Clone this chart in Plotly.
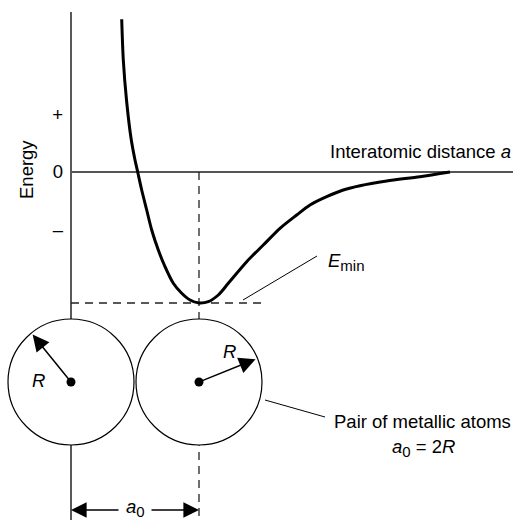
import math
import plotly.graph_objects as go

# ---------------- data (diagram units: origin where the axes cross) ----------------
# Potential-energy curve
distance = [50.7, 52.3, 55.5, 60.0, 64.0, 66.7, 70.7, 75.7, 80.7, 87.3, 94.0, 102.3,
            110.7, 119.0, 128.0, 137.3, 147.3, 157.3, 175.7, 192.3, 209.0, 225.7,
            239.0, 255.7, 272.3, 289.0, 315.7, 349.0, 379.0]
energy = [152.7, 112.0, 72.0, 34.0, 12.0, 0.0, -18.0, -38.0, -58.0, -78.0, -94.7, -111.3,
          -121.3, -128.0, -131.0, -129.7, -123.0, -111.3, -89.7, -73.0, -56.3, -43.0,
          -33.0, -24.7, -18.0, -13.7, -9.0, -4.7, 0.0]

energy_tick_values = [57, 0, -58]
energy_tick_labels = ["+", "0", "–"]

# ---------------- derived quantities ----------------
i_min = energy.index(min(energy))
a0 = distance[i_min]          # equilibrium spacing
E_min = energy[i_min]         # minimum energy
R = a0 / 2                    # atomic radius, a0 = 2R

# ---------------- frame / styling ----------------
X_MIN, X_MAX = -71, 442
Y_MIN, Y_MAX = -348, 172
W, H = 513, 520
FONT = "Liberation Sans, Arial, Helvetica, sans-serif"
FS = 18.5
SUB = '<sub><span style="font-size:15px">{}</span></sub>'
atom_y = -210
R_draw = R - 1
dim_y = -338

fig = go.Figure()

fig.add_trace(go.Scatter(
    x=distance, y=energy, mode="lines",
    line=dict(color="black", width=3, shape="spline", smoothing=0.8),
    hoverinfo="skip", showlegend=False))

fig.add_trace(go.Scatter(
    x=[0, a0], y=[atom_y, atom_y], mode="markers",
    marker=dict(color="black", size=9),
    hoverinfo="skip", showlegend=False))

shapes = [
    # energy axis
    dict(type="line", x0=0, x1=0, y0=160, y1=Y_MIN, line=dict(color="#222", width=1.5)),
    # distance axis
    dict(type="line", x0=0, x1=X_MAX, y0=0, y1=0, line=dict(color="#555", width=2)),
    # E_min dashed guide
    dict(type="line", x0=0, x1=194, y0=E_min, y1=E_min,
         line=dict(color="#222", width=1.3, dash="8px,6px")),
    # a0 dashed guide
    dict(type="line", x0=a0, x1=a0, y0=0, y1=Y_MIN,
         line=dict(color="#222", width=1.3, dash="8px,6px")),
]
for cx in [0, a0]:
    shapes.append(dict(type="circle", x0=cx - R_draw, x1=cx + R_draw,
                       y0=atom_y - R_draw, y1=atom_y + R_draw,
                       fillcolor="white", line=dict(color="black", width=1.2)))
# leader lines
shapes.append(dict(type="line", x0=172, y0=E_min + 3, x1=246, y1=-84,
                   line=dict(color="black", width=1)))
shapes.append(dict(type="line", x0=194, y0=-228, x1=254, y1=-245,
                   line=dict(color="black", width=1)))
for s in shapes:
    s.update(layer="below", xref="x", yref="y")

annotations = []


def text(x, y, t, **kw):
    d = dict(x=x, y=y, xref="x", yref="y", text=t, showarrow=False,
             font=dict(family=FONT, size=FS, color="black"))
    d.update(kw)
    annotations.append(d)


def arrow(x, y, ax, ay, width=1.5, size=2.2):
    annotations.append(dict(x=x, y=y, ax=ax, ay=ay, xref="x", yref="y",
                            axref="x", ayref="y", text="", showarrow=True,
                            arrowhead=2, arrowsize=size, arrowwidth=width,
                            arrowcolor="black", standoff=0, startstandoff=0))


text(-45, 2, "Energy", textangle=-90)
text(X_MAX, 21, "Interatomic distance <i>a</i>", xanchor="right")
text(255, -90, "<i>E</i>" + SUB.format("min"), xanchor="left")
text(-33, -208, "<i>R</i>")
text(158, -179, "<i>R</i>")
text(351, -249.5, "Pair of metallic atoms")
text(352, -276, "<i>a</i>" + SUB.format("0") + " = 2<i>R</i>")
text(64, -335.5, "<i>a</i>" + SUB.format("0"))

# radius arrows
for cx, ang in [(0, 129), (a0, 22)]:
    L = R_draw - 2
    arrow(cx + L * math.cos(math.radians(ang)), atom_y + L * math.sin(math.radians(ang)),
          cx, atom_y)
# a0 dimension arrows
arrow(0, dim_y, 49, dim_y, width=1.3, size=2.4)
arrow(a0, dim_y, 79, dim_y, width=1.3, size=2.4)

fig.update_layout(
    width=W, height=H, margin=dict(l=0, r=0, t=0, b=0, pad=0),
    paper_bgcolor="white", plot_bgcolor="white", template="none",
    showlegend=False, shapes=shapes, annotations=annotations,
    xaxis=dict(range=[X_MIN, X_MAX], visible=False, fixedrange=True, automargin=False),
    yaxis=dict(range=[Y_MIN, Y_MAX], anchor="free", position=71 / W,
               tickvals=energy_tick_values, ticktext=energy_tick_labels,
               ticks="", showline=False, showgrid=False, zeroline=False,
               tickfont=dict(family=FONT, size=FS, color="black"),
               ticklabelstandoff=8, automargin=False, fixedrange=True),
    font=dict(family=FONT, size=FS, color="black"),
)

fig.write_html("out.html", config={"displayModeBar": False, "staticPlot": True},
               post_script="document.body.style.margin='0';document.body.style.overflow='hidden';")
